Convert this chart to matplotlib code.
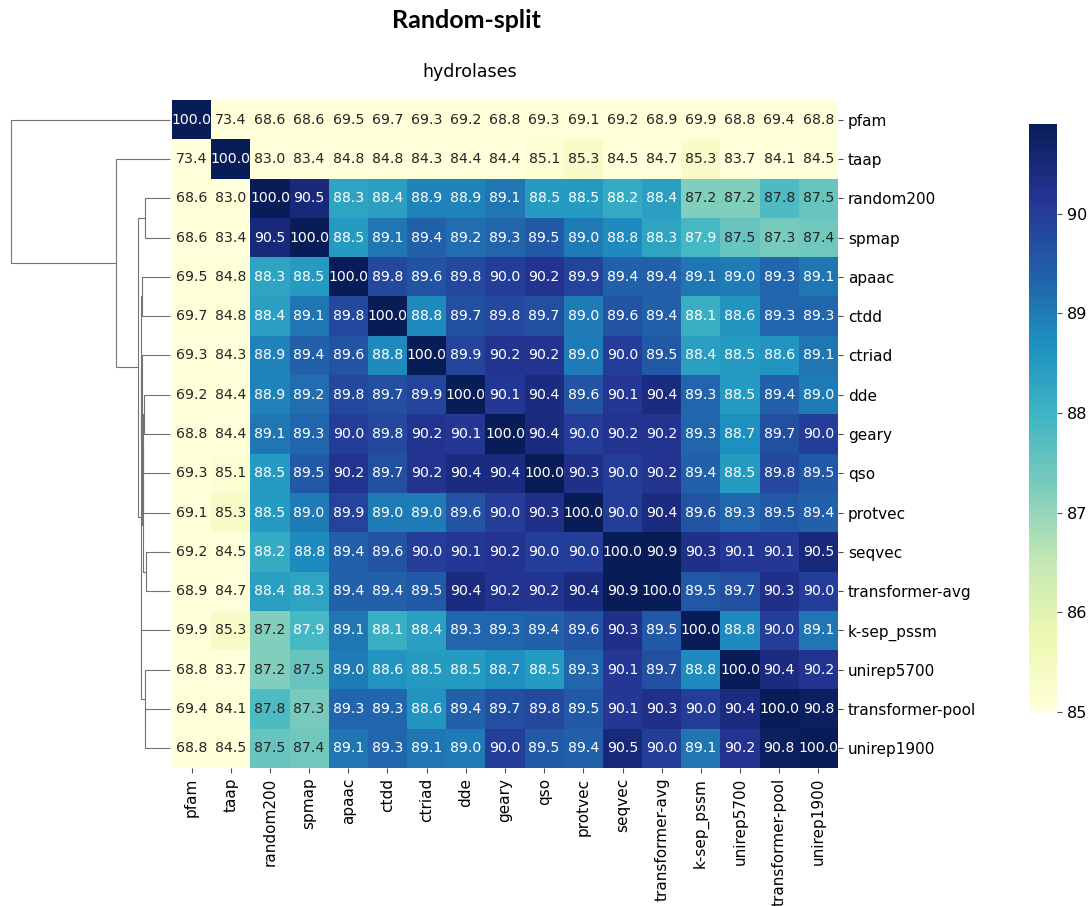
import numpy as np
import pandas as pd
import matplotlib
matplotlib.use("Agg")
import matplotlib.pyplot as plt
import seaborn as sns
from matplotlib.collections import LineCollection

# Feature encodings, in clustered order
labels = ["pfam", "taap", "random200", "spmap", "apaac", "ctdd", "ctriad", "dde",
          "geary", "qso", "protvec", "seqvec", "transformer-avg", "k-sep_pssm",
          "unirep5700", "transformer-pool", "unirep1900"]

# Pairwise similarity (%) between encodings
similarity = [
    [100.0, 73.4, 68.6, 68.6, 69.5, 69.7, 69.3, 69.2, 68.8, 69.3, 69.1, 69.2, 68.9, 69.9, 68.8, 69.4, 68.8],
    [73.4, 100.0, 83.0, 83.4, 84.8, 84.8, 84.3, 84.4, 84.4, 85.1, 85.3, 84.5, 84.7, 85.3, 83.7, 84.1, 84.5],
    [68.6, 83.0, 100.0, 90.5, 88.3, 88.4, 88.9, 88.9, 89.1, 88.5, 88.5, 88.2, 88.4, 87.2, 87.2, 87.8, 87.5],
    [68.6, 83.4, 90.5, 100.0, 88.5, 89.1, 89.4, 89.2, 89.3, 89.5, 89.0, 88.8, 88.3, 87.9, 87.5, 87.3, 87.4],
    [69.5, 84.8, 88.3, 88.5, 100.0, 89.8, 89.6, 89.8, 90.0, 90.2, 89.9, 89.4, 89.4, 89.1, 89.0, 89.3, 89.1],
    [69.7, 84.8, 88.4, 89.1, 89.8, 100.0, 88.8, 89.7, 89.8, 89.7, 89.0, 89.6, 89.4, 88.1, 88.6, 89.3, 89.3],
    [69.3, 84.3, 88.9, 89.4, 89.6, 88.8, 100.0, 89.9, 90.2, 90.2, 89.0, 90.0, 89.5, 88.4, 88.5, 88.6, 89.1],
    [69.2, 84.4, 88.9, 89.2, 89.8, 89.7, 89.9, 100.0, 90.1, 90.4, 89.6, 90.1, 90.4, 89.3, 88.5, 89.4, 89.0],
    [68.8, 84.4, 89.1, 89.3, 90.0, 89.8, 90.2, 90.1, 100.0, 90.4, 90.0, 90.2, 90.2, 89.3, 88.7, 89.7, 90.0],
    [69.3, 85.1, 88.5, 89.5, 90.2, 89.7, 90.2, 90.4, 90.4, 100.0, 90.3, 90.0, 90.2, 89.4, 88.5, 89.8, 89.5],
    [69.1, 85.3, 88.5, 89.0, 89.9, 89.0, 89.0, 89.6, 90.0, 90.3, 100.0, 90.0, 90.4, 89.6, 89.3, 89.5, 89.4],
    [69.2, 84.5, 88.2, 88.8, 89.4, 89.6, 90.0, 90.1, 90.2, 90.0, 90.0, 100.0, 90.9, 90.3, 90.1, 90.1, 90.5],
    [68.9, 84.7, 88.4, 88.3, 89.4, 89.4, 89.5, 90.4, 90.2, 90.2, 90.4, 90.9, 100.0, 89.5, 89.7, 90.3, 90.0],
    [69.9, 85.3, 87.2, 87.9, 89.1, 88.1, 88.4, 89.3, 89.3, 89.4, 89.6, 90.3, 89.5, 100.0, 88.8, 90.0, 89.1],
    [68.8, 83.7, 87.2, 87.5, 89.0, 88.6, 88.5, 88.5, 88.7, 88.5, 89.3, 90.1, 89.7, 88.8, 100.0, 90.4, 90.2],
    [69.4, 84.1, 87.8, 87.3, 89.3, 89.3, 88.6, 89.4, 89.7, 89.8, 89.5, 90.1, 90.3, 90.0, 90.4, 100.0, 90.8],
    [68.8, 84.5, 87.5, 87.4, 89.1, 89.3, 89.1, 89.0, 90.0, 89.5, 89.4, 90.5, 90.0, 89.1, 90.2, 90.8, 100.0],
]

# Row clustering: (child a, child b, merge height); new nodes numbered from 17 on
linkage = [
    (15, 16, 15.4),
    (14, 17, 15.7),
    (11, 12, 15.3),
    (7, 8, 16.1),
    (2, 3, 15.7),
    (4, 5, 17.4),
    (20, 9, 16.8),
    (23, 10, 17.0),
    (24, 19, 17.2),
    (6, 25, 17.8),
    (22, 26, 18.0),
    (13, 18, 18.2),
    (27, 28, 18.3),
    (21, 29, 20.3),
    (1, 30, 33.9),
    (0, 31, 100.0),
]

W, H = 1089, 906
fig = plt.figure(figsize=(W / 100, H / 100), dpi=100)


def px_axes(x0, y0, x1, y1):
    return fig.add_axes([x0 / W, 1 - y1 / H, (x1 - x0) / W, (y1 - y0) / H])


ax = px_axes(172, 100, 838, 768)
dax = px_axes(10.7, 100, 170, 768)
cax = px_axes(1029, 124, 1057, 712)

df = pd.DataFrame(similarity, index=labels, columns=labels)
sns.heatmap(df, ax=ax, cmap="YlGnBu", vmin=85, vmax=90.9, annot=True, fmt=".1f",
            annot_kws={"size": 10.2}, cbar_ax=cax,
            xticklabels=labels, yticklabels=labels)
ax.yaxis.tick_right()
ax.tick_params(axis="both", labelsize=11, length=3.5, width=0.8, color="0.3")
plt.setp(ax.get_yticklabels(), rotation=0)
plt.setp(ax.get_xticklabels(), rotation=90)
ax.set_xlabel("")
ax.set_ylabel("")

cax.set_yticks([85, 86, 87, 88, 89, 90])
cax.tick_params(labelsize=11.5, length=3.5, width=0.8, color="0.3")

# Row dendrogram
n = len(labels)
pos = {i: i + 0.5 for i in range(n)}
hgt = {i: 0.0 for i in range(n)}
segs = []
for k, (a, b, h) in enumerate(linkage):
    node = n + k
    segs.append([(hgt[a], pos[a]), (h, pos[a]), (h, pos[b]), (hgt[b], pos[b])])
    pos[node] = (pos[a] + pos[b]) / 2
    hgt[node] = h
dax.add_collection(LineCollection(segs, colors="0.45", linewidths=0.8, clip_on=False))
dax.set_xlim(100, 0)
dax.set_ylim(n, 0)
dax.axis("off")

fig.text(466 / W, 1 - 20 / H, "Random-split", ha="center", va="center",
         fontsize=18, fontweight="bold", family=["Lato", "DejaVu Sans"])
fig.text(470 / W, 1 - 72 / H, "hydrolases", ha="center", va="center", fontsize=12.5)

fig.savefig("out.png", dpi=100)
